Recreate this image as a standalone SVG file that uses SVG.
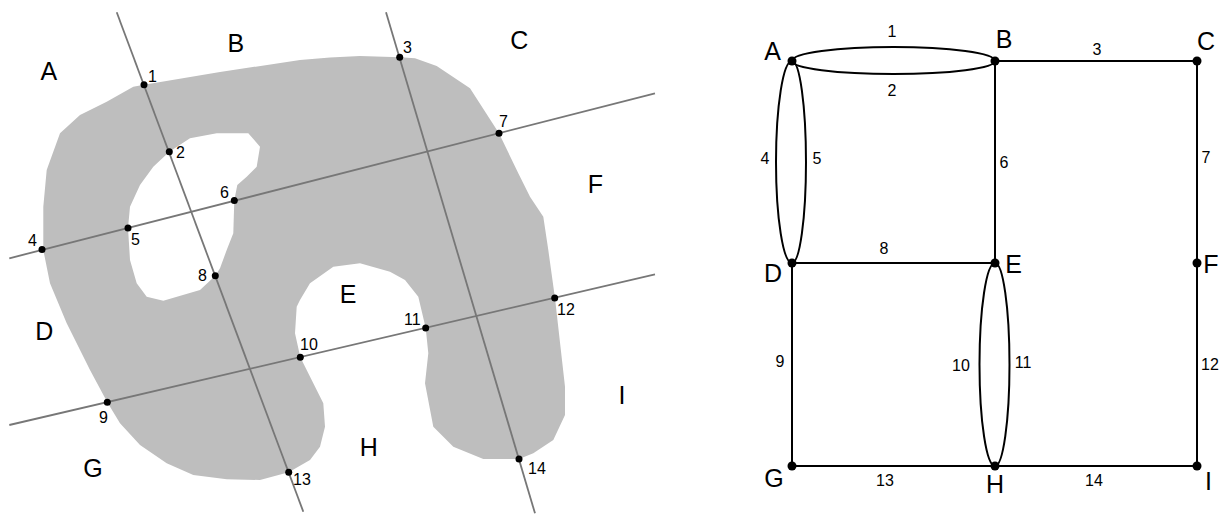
<svg xmlns="http://www.w3.org/2000/svg" width="1226" height="514" viewBox="0 0 1226 514">
<style>
text{font-family:"Liberation Sans",Arial,sans-serif;fill:#000}
.rl{font-size:25px;text-anchor:middle}
.pl{font-size:16px}
.nl{font-size:25px;text-anchor:middle}
.el{font-size:16px;text-anchor:middle}
.cut{stroke:#777;stroke-width:1.8;fill:none}
.pt{fill:#000}
.edge{stroke:#000;stroke-width:2;fill:none}
.nd{fill:#000}
</style>
<g id="map">
<path id="blob" fill="#bebebe" fill-rule="evenodd" d="M144,84.7 L220,72 L300,60 L330,57.5 L360,56 L400,57.3 L415,58.3 L436.7,66 L470,88.3 L499,133.3 L518.3,173.3 L530,196.7 L543.3,216.7 L548.3,250 L555,298.3 L565,386.7 L565,415 L553.3,440 L533.3,453.3 L519,459 L483.3,459 L453.3,446.7 L433.3,426.7 L425,383.3 L428.3,353.3 L425.7,328 L418.3,296.7 L405,280 L390,271.7 L360,263.3 L333.3,266.7 L310,283.3 L300,300 L296.7,306.7 L295,333.3 L300.3,357.3 L313.3,383.3 L323.3,403.3 L325,426.7 L320,446.7 L310,460 L288.7,472.3 L260,480 L226.7,479.3 L193.3,475 L166.7,463.3 L140,445 L120,423.3 L107.3,402.3 L90,370 L66.7,323.3 L50,283.3 L43.3,250 L43.3,206.7 L46.7,170 L60,133.3 L80,115 L106.7,101.7 L133.3,86.7 Z M169.3,151.7 L190,138.3 L216.7,133.3 L248.3,133.3 L260,146.7 L256.7,166.7 L246.7,176.7 L237.3,185 L234.3,200.3 L233.3,233.3 L226.7,250 L220,268.3 L215.3,275.7 L200,290 L163.3,300.7 L146.7,296.7 L136.7,283.3 L130,260 L128,228 L130,206.7 L140,185 L153.3,166.7 Z"/>
<g id="cuts">
<line class="cut" x1="116.7" y1="12.3" x2="303.3" y2="511.7"/>
<line class="cut" x1="386" y1="12.3" x2="535" y2="513.3"/>
<line class="cut" x1="9.3" y1="258.3" x2="655" y2="93.3"/>
<line class="cut" x1="9.3" y1="425" x2="655" y2="274.3"/>
</g>
<g id="crossings">
<circle class="pt" cx="144" cy="84.7" r="3.5"/>
<circle class="pt" cx="169.3" cy="151.7" r="3.5"/>
<circle class="pt" cx="399.7" cy="57.3" r="3.5"/>
<circle class="pt" cx="42" cy="249.6" r="3.5"/>
<circle class="pt" cx="128" cy="228" r="3.5"/>
<circle class="pt" cx="234.3" cy="200.5" r="3.5"/>
<circle class="pt" cx="499" cy="133.3" r="3.5"/>
<circle class="pt" cx="215.3" cy="275.7" r="3.5"/>
<circle class="pt" cx="107.3" cy="402.2" r="3.5"/>
<circle class="pt" cx="300.3" cy="357.2" r="3.5"/>
<circle class="pt" cx="425.7" cy="328" r="3.5"/>
<circle class="pt" cx="554.7" cy="298" r="3.5"/>
<circle class="pt" cx="288.7" cy="472.3" r="3.5"/>
<circle class="pt" cx="519" cy="459" r="3.5"/>
<text class="pl" x="148" y="82">1</text>
<text class="pl" x="176" y="158">2</text>
<text class="pl" x="403" y="53">3</text>
<text class="pl" x="28" y="246">4</text>
<text class="pl" x="131" y="245">5</text>
<text class="pl" x="220" y="198">6</text>
<text class="pl" x="499" y="127">7</text>
<text class="pl" x="198" y="281">8</text>
<text class="pl" x="99" y="423">9</text>
<text class="pl" x="300" y="350">10</text>
<text class="pl" x="404" y="325">11</text>
<text class="pl" x="557" y="315">12</text>
<text class="pl" x="293" y="485">13</text>
<text class="pl" x="528" y="474">14</text>
</g>
<g id="regions">
<text class="rl" x="48.8" y="80">A</text>
<text class="rl" x="235.8" y="52">B</text>
<text class="rl" x="519.2" y="49">C</text>
<text class="rl" x="44.2" y="340">D</text>
<text class="rl" x="348" y="303">E</text>
<text class="rl" x="595.5" y="193">F</text>
<text class="rl" x="93" y="477">G</text>
<text class="rl" x="368.7" y="456">H</text>
<text class="rl" x="622" y="404">I</text>
</g>
</g>
<g id="connectors">
<path class="edge" d="M792,61 A101.5,14 0 0 1 995,61"/>
<path class="edge" d="M792,61 A101.5,13 0 0 0 995,61"/>
<line class="edge" x1="995" y1="61" x2="1197" y2="61"/>
<path class="edge" d="M792,61 A16,101 0 0 0 792,263"/>
<path class="edge" d="M792,61 A14,101 0 0 1 792,263"/>
<line class="edge" x1="995" y1="61" x2="995" y2="263"/>
<line class="edge" x1="1197" y1="61" x2="1197" y2="263"/>
<line class="edge" x1="792" y1="263" x2="995" y2="263"/>
<line class="edge" x1="792" y1="263" x2="792" y2="466"/>
<path class="edge" d="M995,263 A15.5,101.5 0 0 0 995,466"/>
<path class="edge" d="M995,263 A14.5,101.5 0 0 1 995,466"/>
<line class="edge" x1="1197" y1="263" x2="1197" y2="466"/>
<line class="edge" x1="792" y1="466" x2="995" y2="466"/>
<line class="edge" x1="995" y1="466" x2="1197" y2="466"/>
<text class="el" x="892" y="37">1</text>
<text class="el" x="892" y="96">2</text>
<text class="el" x="1097" y="55">3</text>
<text class="el" x="765" y="164">4</text>
<text class="el" x="817" y="164">5</text>
<text class="el" x="1004" y="168">6</text>
<text class="el" x="1206" y="163">7</text>
<text class="el" x="884" y="254">8</text>
<text class="el" x="780" y="367">9</text>
<text class="el" x="961" y="371">10</text>
<text class="el" x="1023" y="368">11</text>
<text class="el" x="1210" y="370">12</text>
<text class="el" x="885" y="486">13</text>
<text class="el" x="1094" y="486">14</text>
</g>
<g id="node-A"><circle class="nd" cx="792" cy="61" r="4.5"/><text class="nl" x="772.5" y="60">A</text></g>
<g id="node-B"><circle class="nd" cx="995" cy="61" r="4.5"/><text class="nl" x="1004" y="48">B</text></g>
<g id="node-C"><circle class="nd" cx="1197" cy="61" r="4.5"/><text class="nl" x="1206" y="50">C</text></g>
<g id="node-D"><circle class="nd" cx="792" cy="263" r="4.5"/><text class="nl" x="773" y="282">D</text></g>
<g id="node-E"><circle class="nd" cx="995" cy="263" r="4.5"/><text class="nl" x="1013.5" y="273">E</text></g>
<g id="node-F"><circle class="nd" cx="1197" cy="263" r="4.5"/><text class="nl" x="1211" y="273">F</text></g>
<g id="node-G"><circle class="nd" cx="792" cy="466" r="4.5"/><text class="nl" x="774" y="487">G</text></g>
<g id="node-H"><circle class="nd" cx="995" cy="466" r="4.5"/><text class="nl" x="995" y="493">H</text></g>
<g id="node-I"><circle class="nd" cx="1197" cy="466" r="4.5"/><text class="nl" x="1208.5" y="490">I</text></g>
</svg>
